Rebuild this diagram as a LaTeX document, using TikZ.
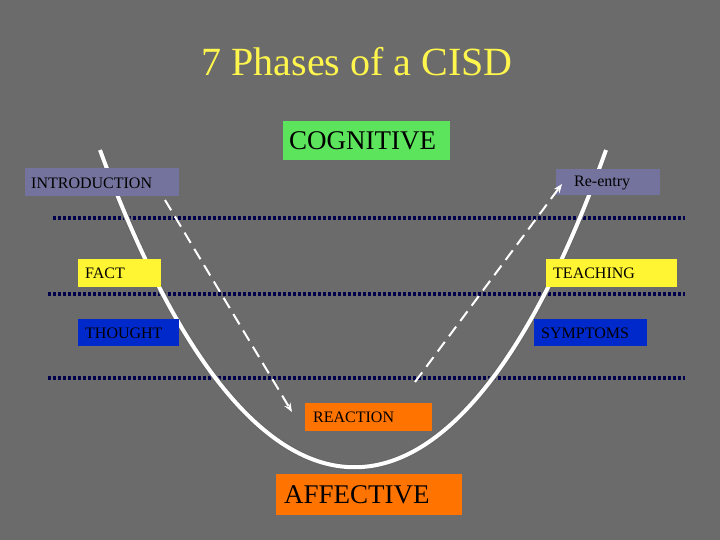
\documentclass[tikz,border=0pt]{standalone}
\usepackage{fontspec}
\setmainfont{Liberation Serif}
\usetikzlibrary{arrows.meta}
\begin{document}
\begin{tikzpicture}[x=1pt,y=-1pt,
 lbl/.style={draw=none,anchor=west,font=\fontsize{16}{16}\selectfont,inner sep=0pt},
 dots/.style={draw=black!70!blue,line width=3.5pt,dash pattern=on 3pt off 2pt},
 dsh/.style={draw=white,line width=2pt,dash pattern=on 12pt off 7pt,-{Stealth[length=9pt,width=7pt]}}]
\useasboundingbox (0,0) rectangle (720,540);
\fill[black!58] (0,0) rectangle (720,540);
\node[text=yellow!70!white,font=\fontsize{40}{40}\selectfont] (title) at (357,62) {7 Phases of a CISD};
\draw[dots] (53,218) -- (685,218);
\draw[dots] (48,294) -- (685,294);
\draw[dots] (48,378) -- (685,378);
\draw[black!60,line width=6pt] (100,150) .. controls (255,573) and (455,573) .. (606,150);
\draw[white,line width=4pt] (100,150) .. controls (255,573) and (455,573) .. (606,150);
\fill[green!60!white!90!black] (283,121) rectangle (450,160);
\node[lbl,font=\fontsize{27}{27}\selectfont] (cog) at (289,141) {COGNITIVE};
\fill[blue!30!black!55] (25,168) rectangle (179,196);
\node[lbl] (intro) at (31,183) {INTRODUCTION};
\fill[blue!30!black!55] (556,169) rectangle (660,195);
\node[lbl] (reentry) at (574,183) {Re-entry};
\fill[yellow!80!white] (78,259) rectangle (161,287);
\node[lbl] (fact) at (85,273) {FACT};
\fill[yellow!80!white] (546,259) rectangle (677,287);
\node[lbl] (teach) at (553,273) {TEACHING};
\fill[blue!80!cyan!80!black] (78,319) rectangle (179,346);
\node[lbl] (thought) at (85,333) {THOUGHT};
\fill[blue!80!cyan!80!black] (534,319) rectangle (647,346);
\node[lbl] (sympt) at (541,333) {SYMPTOMS};
\fill[orange!90!red] (305,403) rectangle (432,431);
\node[lbl] (react) at (313,417) {REACTION};
\fill[orange!90!red] (276,474) rectangle (462,515);
\node[lbl,font=\fontsize{27}{27}\selectfont] (aff) at (284,495) {AFFECTIVE};
\coordinate (a1) at (165,200); \coordinate (a2) at (292,412);
\coordinate (b1) at (415,382); \coordinate (b2) at (562,184);
\draw[dsh] (a1) -- (a2);
\draw[dsh] (b1) -- (b2);
\end{tikzpicture}
\end{document}
